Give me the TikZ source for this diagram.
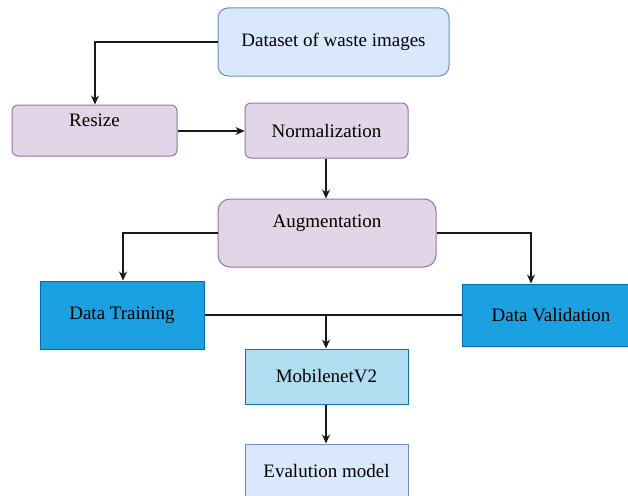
\documentclass[tikz,border=0pt]{standalone}
\usepackage{fontspec}
\setmainfont{Liberation Serif}
\usetikzlibrary{arrows.meta}
\definecolor{dsfill}{HTML}{DAE8FC}
\definecolor{dsdraw}{HTML}{6C8EBF}
\definecolor{pufill}{HTML}{E1D5E7}
\definecolor{pudraw}{HTML}{9673A6}
\definecolor{blfill}{HTML}{1BA1E2}
\definecolor{bldraw}{HTML}{006EAF}
\definecolor{mbfill}{HTML}{B1DDF0}
\definecolor{mbdraw}{HTML}{10739E}
\tikzset{
  box/.style={draw, line width=1pt, inner sep=0pt, font=\fontsize{19}{22}\selectfont},
  lightbox/.style={box, fill=dsfill, draw=dsdraw},
  purplebox/.style={box, fill=pufill, draw=pudraw, rounded corners=8pt},
  bluebox/.style={box, fill=blfill, draw=bldraw},
  mobbox/.style={box, fill=mbfill, draw=mbdraw},
  raised/.style={text height=13pt, text depth=#1},
  conn/.style={line width=1.2pt, draw=black!90, -{Stealth[length=9pt,width=8pt]}},
  plain/.style={line width=1.2pt, draw=black!90},
}
\begin{document}
\begin{tikzpicture}[x=1pt,y=-1pt]
\clip (0,0) rectangle (628,495);
\fill[white] (0,0) rectangle (628,495);
\node[lightbox, rounded corners=10pt, minimum width=231pt, minimum height=68pt] (ds) at (333.5,42) {Dataset of waste images};
\node[purplebox, rounded corners=6pt, minimum width=165pt, minimum height=51pt, raised=22pt] (rs) at (94.5,130.5) {Resize};
\node[purplebox, rounded corners=6pt, minimum width=163pt, minimum height=55pt] (nm) at (326.5,130.5) {Normalization};
\node[purplebox, rounded corners=12pt, minimum width=218pt, minimum height=68pt, raised=24pt] (au) at (327,233) {Augmentation};
\node[bluebox, minimum width=164pt, minimum height=68pt] (dt) at (122,315) {Data Training};
\node[bluebox, minimum width=178pt, minimum height=62pt] (dv) at (551,315) {Data Validation};
\node[mobbox, minimum width=163pt, minimum height=55pt] (mb) at (326.5,376.5) {MobilenetV2};
\node[lightbox, minimum width=163pt, minimum height=54pt] (ev) at (326.5,471) {Evalution model};
\coordinate (j) at (326,315);
\draw[conn] (ds.west) -| (rs.north -| 95,0);
\draw[conn] (rs.east |- 0,131) -- (nm.west |- 0,131);
\draw[conn] (nm.south -| 326,0) -- (au.north -| 326,0);
\draw[conn] (au.west) -| (dt.north -| 123,0);
\draw[conn] (au.east) -| (dv.north -| 531,0);
\draw[plain] (dt.east) -- (dv.west);
\draw[conn] (j) -- (mb.north -| 326,0);
\draw[conn] (mb.south -| 326,0) -- (ev.north -| 326,0);
\end{tikzpicture}
\end{document}
